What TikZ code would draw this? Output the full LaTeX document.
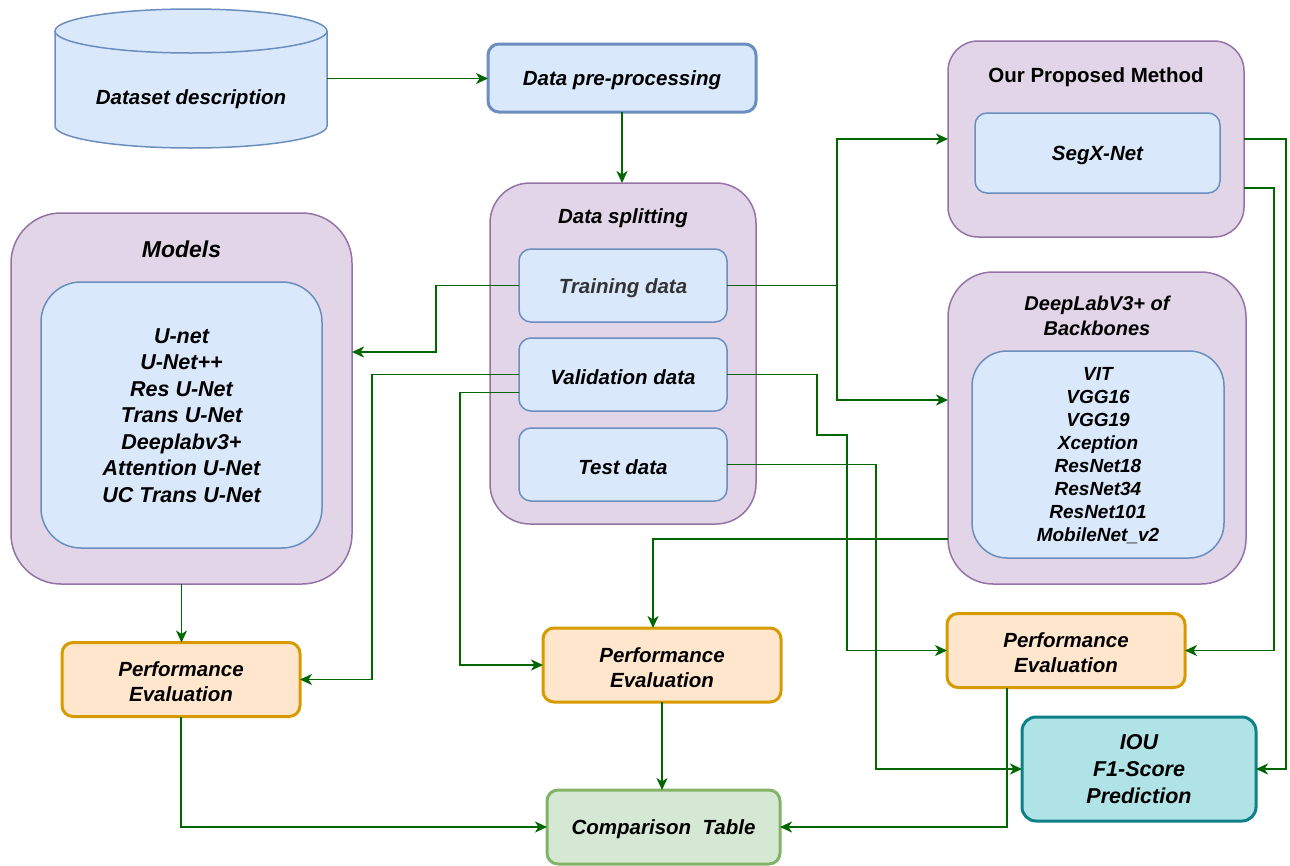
\documentclass[tikz,border=0pt]{standalone}
\usepackage{fontspec}
\setmainfont{Liberation Sans}
\usetikzlibrary{arrows.meta,calc}
\definecolor{lnGreen}{HTML}{006600}
\definecolor{purFill}{HTML}{E1D5E7}
\definecolor{purLine}{HTML}{9673A6}
\definecolor{bluFill}{HTML}{DAE8FC}
\definecolor{bluLine}{HTML}{6C8EBF}
\definecolor{orgFill}{HTML}{FFE6CC}
\definecolor{orgLine}{HTML}{D79B00}
\definecolor{grnFill}{HTML}{D5E8D4}
\definecolor{grnLine}{HTML}{82B366}
\definecolor{tealFill}{HTML}{B0E3E6}
\definecolor{tealLine}{HTML}{0E8088}
\tikzset{
  every node/.style={inner sep=0pt, outer sep=0pt, align=center},
  mainfont/.style={font=\fontsize{20.5}{25}\selectfont\bfseries\itshape},
  oneline/.style={text height=19.5pt},
  outerbox/.style={draw=purLine, fill=purFill, line width=1.5pt, rectangle},
  innerbox/.style={draw=bluLine, fill=bluFill, line width=1.5pt, rectangle},
  prebox/.style={draw=bluLine, fill=bluFill, line width=3pt, rectangle, rounded corners=11pt, mainfont, oneline},
  perfbox/.style={draw=orgLine, fill=orgFill, line width=3pt, rectangle, rounded corners=11pt, minimum width=238pt, minimum height=74pt, mainfont, text height=44pt, text depth=0pt},
  cmpbox/.style={draw=grnLine, fill=grnFill, line width=3pt, rectangle, rounded corners=11pt, mainfont, oneline},
  ioubox/.style={draw=tealLine, fill=tealFill, line width=3pt, rectangle, rounded corners=14pt},
  splitbox/.style={innerbox, rounded corners=12pt, minimum width=208pt, minimum height=73pt, mainfont, oneline},
  arr/.style={draw=lnGreen, line width=1.8pt, -{Stealth[length=12pt,width=11pt,inset=3.5pt]}},
}
\begin{document}
\begin{tikzpicture}[x=1pt,y=-1pt]
\useasboundingbox (0,0) rectangle (1290,865);

% Cylinder
\draw[draw=bluLine, fill=bluFill, line width=1.5pt]
  (55,31) -- (55,126) arc[start angle=180, end angle=0, x radius=136, y radius=22]
  -- (327,31) arc[start angle=0, end angle=-180, x radius=136, y radius=22] -- cycle;
\draw[draw=bluLine, line width=1.5pt] (55,31) arc[start angle=180, end angle=0, x radius=136, y radius=22];
\node[minimum width=272pt, minimum height=139pt] (ds) at (191,78.5) {};
\node[mainfont] (dstext) at (191,99) {Dataset description};

% Data pre-processing
\node[prebox, minimum width=268pt, minimum height=68pt] (pre) at (622,78) {Data pre-processing};

% Data splitting
\node[outerbox, rounded corners=40pt, minimum width=266pt, minimum height=341pt] (split) at (623,353.5) {};
\node[mainfont] (splittitle) at (623,218) {Data splitting};
\node[splitbox, text=black!80] (train) at (623,285.5) {Training data};
\node[splitbox] (val) at (623,374.5) {Validation data};
\node[splitbox] (test) at (623,464.5) {Test data};

% Models
\node[outerbox, rounded corners=50pt, minimum width=341pt, minimum height=371pt] (modout) at (181.5,398.5) {};
\node[font=\fontsize{23}{27}\selectfont\bfseries\itshape] (modtitle) at (181.5,249) {Models};
\node[innerbox, rounded corners=40pt, minimum width=281pt, minimum height=266pt] (modin) at (181.5,415) {};
\node[font=\fontsize{21.5}{26.5}\selectfont\bfseries\itshape] (modlist) at (181.5,415.5)
  {U-net\\U-Net++\\Res U-Net\\Trans U-Net\\Deeplabv3+\\Attention U-Net\\UC Trans U-Net};

% Our Proposed Method
\node[outerbox, rounded corners=30pt, minimum width=296pt, minimum height=196pt] (opm) at (1096,139) {};
\node[font=\fontsize{20.5}{25}\selectfont\bfseries] (opmtitle) at (1096,77) {Our Proposed Method};
\node[innerbox, rounded corners=12pt, minimum width=245pt, minimum height=80pt, mainfont, oneline] (segx) at (1097.5,153) {SegX-Net};

% DeepLab
\node[outerbox, rounded corners=45pt, minimum width=298pt, minimum height=312pt] (dl) at (1097,428) {};
\node[font=\fontsize{20}{25}\selectfont\bfseries\itshape] (dltitle) at (1097,315.5) {DeepLabV3+ of\\Backbones};
\node[innerbox, rounded corners=35pt, minimum width=252pt, minimum height=207pt] (dlin) at (1098,454.5) {};
\node[font=\fontsize{19}{23}\selectfont\bfseries\itshape] (dllist) at (1098,456)
  {VIT\\VGG16\\VGG19\\Xception\\ResNet18\\ResNet34\\ResNet101\\MobileNet\_v2};

% Performance evaluations
\node[perfbox] (pe1) at (181,679.5) {Performance\\Evaluation};
\node[perfbox] (pe2) at (662,665) {Performance\\Evaluation};
\node[perfbox] (pe3) at (1066,650.5) {Performance\\Evaluation};

% Comparison table
\node[cmpbox, minimum width=233pt, minimum height=74pt] (cmp) at (663.5,827) {Comparison\ \ Table};

% IOU
\node[ioubox, minimum width=234pt, minimum height=104pt, font=\fontsize{21.5}{27}\selectfont\bfseries\itshape] (iou) at (1139,769) {IOU\\F1-Score\\Prediction};

% Connectors
\draw[arr] (ds.east) -- (ds.east -| pre.west);
\draw[arr] (pre.south) -- (pre.south |- split.north);
\draw[arr] (train.west) -- ++(-83,0) |- ($(modout.east)+(0,-46.5)$);
\draw[arr] (train.east) -- ++(110,0) |- (opm.west);
\draw[arr] ($(train.east)+(110,0)$) |- ($(dl.west)+(0,-28)$);
\draw[arr] (val.west) -- ++(-147,0) |- (pe1.east);
\draw[arr] ($(val.west)+(0,18)$) -- ++(-59,0) |- (pe2.west);
\draw[arr] (val.east) -- ++(90,0) -- ++(0,60.5) -- ++(30,0) |- (pe3.west);
\draw[arr] (test.east) -- ++(149,0) |- (iou.west);
\draw[arr] ($(dl.west)+(0,111)$) -| ($(pe2.north)+(-9,0)$);
\draw[arr] ($(opm.east)+(0,49)$) -- ++(30,0) |- (pe3.east);
\draw[arr] (opm.east) -- ++(42,0) |- (iou.east);
\draw[arr] (modout.south) -- (modout.south |- pe1.north);
\draw[arr] (pe1.south) |- (cmp.west);
\draw[arr] (pe2.south) -- (pe2.south |- cmp.north);
\draw[arr] ($(pe3.south)+(-59,0)$) |- (cmp.east);
\end{tikzpicture}
\end{document}
